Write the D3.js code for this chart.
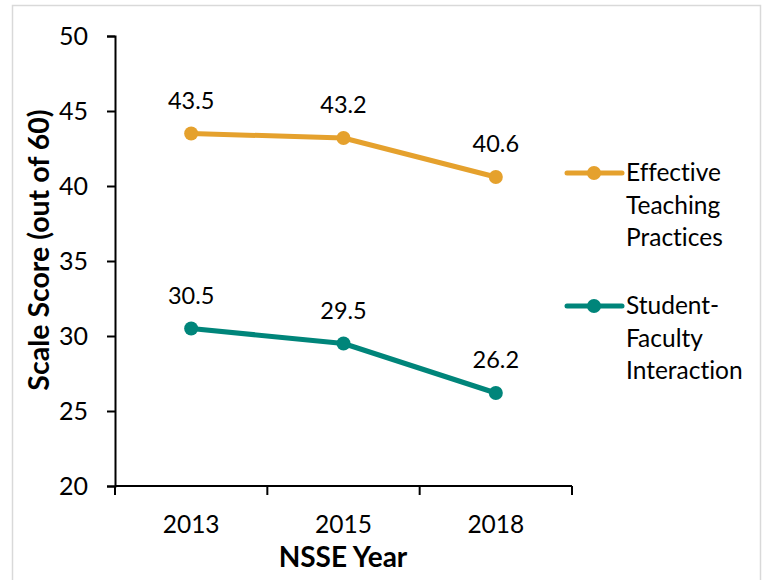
<!DOCTYPE html>
<html>
<head>
<meta charset="utf-8">
<script src="https://cdn.jsdelivr.net/npm/d3@7/dist/d3.min.js"></script>
<style>
  html, body { margin: 0; padding: 0; background: #fff; }
  svg { display: block; }
  text { font-family: Lato, "Open Sans", sans-serif; fill: #000; font-variant-ligatures: none; font-feature-settings: "liga" 0, "dlig" 0; }
</style>
</head>
<body>
<svg id="chart" width="766" height="580"></svg>
<script>
// NSSE scale scores by survey year
const years = ["2013", "2015", "2018"];
const seriesNames = ["Effective Teaching Practices", "Student-Faculty Interaction"];
const legendLines = [["Effective", "Teaching", "Practices"], ["Student-", "Faculty", "Interaction"]];
const effectiveTeaching = [43.5, 43.2, 40.6];
const studentFaculty = [30.5, 29.5, 26.2];
const yTicks = [20, 25, 30, 35, 40, 45, 50];
const colors = ["#E5A12D", "#00857A"];

const seriesData = [effectiveTeaching, studentFaculty];

const svg = d3.select("#chart");

// outer chart frame
svg.append("rect")
  .attr("x", 12.5).attr("y", 5.5)
  .attr("width", 748).attr("height", 580)
  .attr("fill", "#fff").attr("stroke", "#D9D9D9").attr("stroke-width", 1.5);

const x = d3.scaleBand().domain(years).range([115, 572]);
const y = d3.scaleLinear().domain([20, 50]).range([486, 36]);

// y axis
const yAxis = svg.append("g")
  .attr("transform", "translate(115,0)")
  .call(d3.axisLeft(y).tickValues(yTicks).tickSize(8).tickPadding(19));
yAxis.select(".domain").attr("stroke", "#000").attr("stroke-width", 2);
yAxis.selectAll(".tick line").attr("stroke", "#000").attr("stroke-width", 2);
yAxis.selectAll(".tick text")
  .style("font-family", "Lato, sans-serif").style("font-size", "25px").attr("fill", "#000");

// x axis: ticks sit between categories
const xAxisG = svg.append("g").attr("transform", "translate(0,486)");
xAxisG.append("line")
  .attr("x1", x.range()[0]).attr("x2", x.range()[1])
  .attr("stroke", "#000").attr("stroke-width", 2);
const boundaries = years.map(d => x(d)).concat([x.range()[1]]);
xAxisG.selectAll("line.tk").data(boundaries).join("line")
  .attr("class", "tk")
  .attr("x1", d => d).attr("x2", d => d)
  .attr("y1", 0).attr("y2", 9)
  .attr("stroke", "#000").attr("stroke-width", 2);
xAxisG.selectAll("text.yr").data(years).join("text")
  .attr("class", "yr")
  .attr("x", d => x(d) + x.bandwidth() / 2)
  .attr("y", 47)
  .attr("text-anchor", "middle")
  .style("font-size", "24.5px")
  .text(d => d);

// axis titles
svg.append("text")
  .attr("x", 343).attr("y", 567)
  .attr("text-anchor", "middle")
  .style("font-size", "28px").style("font-weight", "bold")
  .text("NSSE Year");
svg.append("text")
  .attr("transform", "translate(49,250) rotate(-90)")
  .attr("text-anchor", "middle")
  .style("font-size", "28.5px").style("font-weight", "bold")
  .text("Scale Score (out of 60)");

const cx = d => x(d) + x.bandwidth() / 2;
const line = d3.line().x((d, i) => cx(years[i])).y(d => y(d));

seriesData.forEach((vals, s) => {
  const g = svg.append("g");
  g.append("path")
    .datum(vals)
    .attr("d", line)
    .attr("fill", "none")
    .attr("stroke", colors[s])
    .attr("stroke-width", 5)
    .attr("stroke-linejoin", "round");
  g.selectAll("circle").data(vals).join("circle")
    .attr("cx", (d, i) => cx(years[i]))
    .attr("cy", d => y(d))
    .attr("r", 7)
    .attr("fill", colors[s]);
  g.selectAll("text").data(vals).join("text")
    .attr("x", (d, i) => cx(years[i]))
    .attr("y", d => y(d) - 25)
    .attr("text-anchor", "middle")
    .style("font-size", "23.5px")
    .text(d => d.toFixed(1));
});

// legend
const legendY = [173, 306];
seriesNames.forEach((name, s) => {
  const g = svg.append("g").attr("transform", `translate(0,${legendY[s]})`);
  g.append("line")
    .attr("x1", 567).attr("x2", 622)
    .attr("stroke", colors[s]).attr("stroke-width", 5).attr("stroke-linecap", "round");
  g.append("circle").attr("cx", 594).attr("cy", 0).attr("r", 7).attr("fill", colors[s]);
  g.selectAll("text").data(legendLines[s]).join("text")
    .attr("x", 626)
    .attr("y", (d, i) => 8 + i * 32.5)
    .style("font-size", "24.5px")
    .text(d => d);
});
</script>
</body>
</html>
